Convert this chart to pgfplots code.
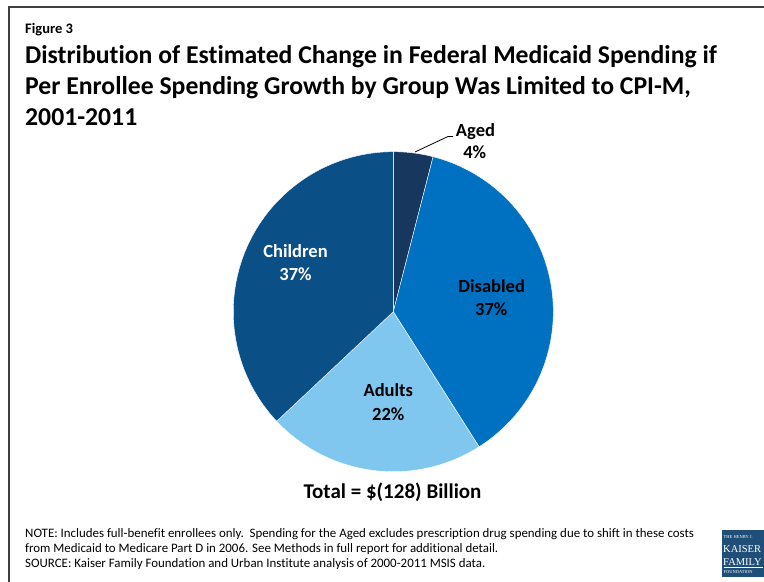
\documentclass[border=0pt]{standalone}
\usepackage{pgfplots}
\pgfplotsset{compat=1.18}
\usepgfplotslibrary{polar}
\usepackage{fontspec}
\setmainfont{Carlito}[Ligatures=NoCommon]
\newfontfamily\logofont{Liberation Serif}
\definecolor{cAged}{HTML}{17375E}
\definecolor{cDis}{HTML}{0070C0}
\definecolor{cAdu}{HTML}{7FC7EE}
\definecolor{cChi}{HTML}{0B4F87}
\definecolor{cBorder}{HTML}{404040}
\definecolor{cLogo}{HTML}{1F4E79}
\begin{document}
\begin{tikzpicture}[x=1bp,y=1bp]
\useasboundingbox (0,0) rectangle (764,582);
% frame
\draw[cBorder, line width=2bp] (9,0) -- (9,575) -- (764,575);
% titles
\node[anchor=base west, inner sep=0] at (25,582-33.3) {\fontsize{14.5bp}{16bp}\selectfont\bfseries Figure 3};
\node[anchor=base west, inner sep=0] at (25,582-63.5) {\fontsize{25.7bp}{30bp}\selectfont\bfseries Distribution of Estimated Change in Federal Medicaid Spending if};
\node[anchor=base west, inner sep=0] at (25,582-94.5) {\fontsize{25.7bp}{30bp}\selectfont\bfseries Per Enrollee Spending Growth by Group Was Limited to CPI-M,};
\node[anchor=base west, inner sep=0] at (25,582-125.5) {\fontsize{25.7bp}{30bp}\selectfont\bfseries 2001-2011};
% pie: shares Aged 4, Disabled 37, Adults 22, Children 37 (percent), clockwise from top; angle = 3.6 * share
\begin{polaraxis}[at={(393.3bp,270.3bp)}, anchor=center, scale only axis,
  width=320bp, height=320bp, ymin=0, ymax=1, hide axis, clip=false]
\addplot[fill=cAged, draw=white, line width=0.4bp, domain=75.6:90, samples=10] {1} -- (axis cs:0,0) -- cycle;
\addplot[fill=cDis, draw=white, line width=0.4bp, domain=-57.6:75.6, samples=80] {1} -- (axis cs:0,0) -- cycle;
\addplot[fill=cAdu, draw=white, line width=0.4bp, domain=-136.8:-57.6, samples=50] {1} -- (axis cs:0,0) -- cycle;
\addplot[fill=cChi, draw=white, line width=0.4bp, domain=90:223.2, samples=80] {1} -- (axis cs:0,0) -- cycle;
\end{polaraxis}
% leader line
\draw[black, line width=0.8bp] (415,582-152) -- (448,582-136.5) -- (453,582-136.5);
% slice labels
\newcommand{\lbl}[4]{\node[anchor=base, inner sep=0, text=#4] at (#1,582-#2) {\fontsize{18.5bp}{20bp}\selectfont\bfseries #3};}
\lbl{475.5}{136.7}{Aged}{black}
\lbl{474.7}{159}{4\%}{black}
\lbl{295.5}{257.3}{Children}{white}
\lbl{295.5}{281}{37\%}{white}
\lbl{491.7}{292.3}{Disabled}{black}
\lbl{491.3}{316}{37\%}{black}
\lbl{388.3}{396.7}{Adults}{black}
\lbl{388.3}{420.7}{22\%}{black}
\node[anchor=base, inner sep=0] at (392.5,582-498.3) {\fontsize{21bp}{23bp}\selectfont\bfseries Total = \$(128) Billion};
% notes
\node[anchor=base west, inner sep=0] at (25,582-538) {\fontsize{12.9bp}{14bp}\selectfont NOTE: Includes full-benefit enrollees only.\ \ Spending for the Aged excludes prescription drug spending due to shift in these costs};
\node[anchor=base west, inner sep=0] at (25,582-553) {\fontsize{12.9bp}{14bp}\selectfont from Medicaid to Medicare Part D in 2006. See Methods in full report for additional detail.};
\node[anchor=base west, inner sep=0] at (25,582-568) {\fontsize{12.9bp}{14bp}\selectfont SOURCE: Kaiser Family Foundation and Urban Institute analysis of 2000-2011 MSIS data.};
% logo
\fill[cLogo] (722,582-577) rectangle (764,582-530);
\node[anchor=base west, inner sep=0, text=white] at (723.5,582-538.5) {\logofont\fontsize{4.5bp}{5bp}\selectfont THE HENRY J.};
\node[anchor=base west, inner sep=0, text=white] at (723,582-553) {\logofont\fontsize{10.5bp}{11bp}\selectfont KAISER};
\node[anchor=base west, inner sep=0, text=white] at (723,582-565.5) {\logofont\fontsize{10.5bp}{11bp}\selectfont FAMILY};
\draw[white, line width=0.4bp] (724,582-567.5) -- (763,582-567.5);
\node[anchor=base west, inner sep=0, text=white] at (723.5,582-574) {\logofont\fontsize{4.5bp}{5bp}\selectfont FOUNDATION};
\end{tikzpicture}
\end{document}
